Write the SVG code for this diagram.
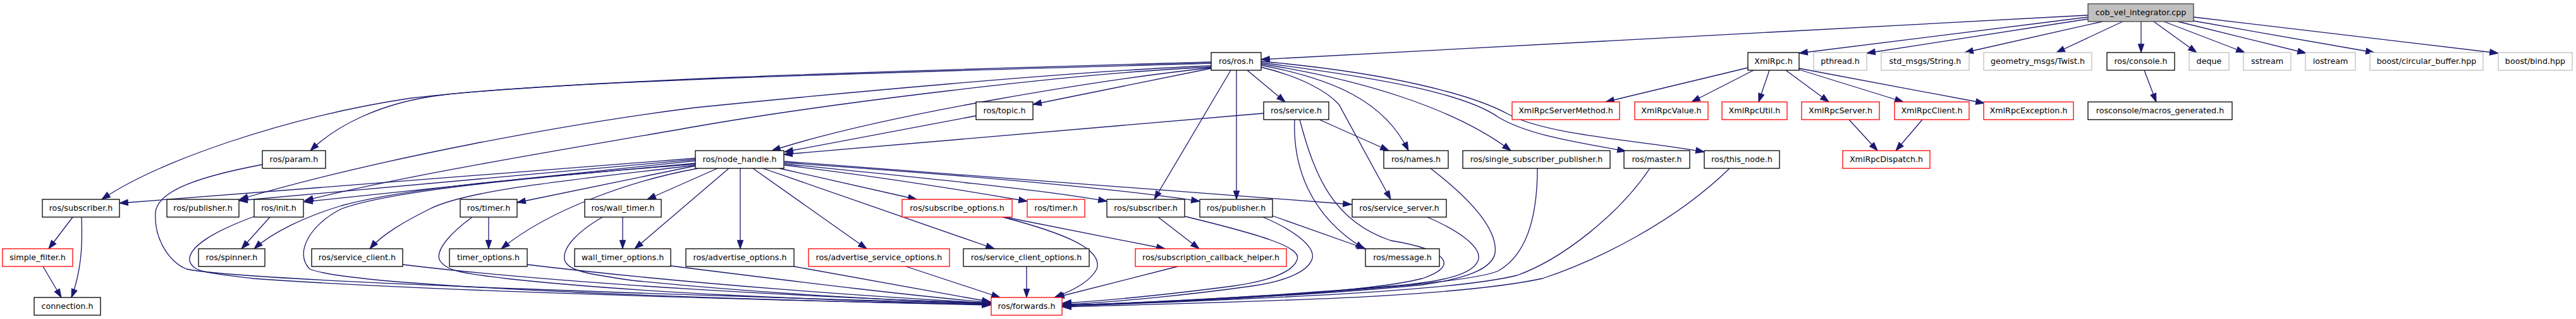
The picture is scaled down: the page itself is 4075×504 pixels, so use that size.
<svg xmlns="http://www.w3.org/2000/svg" width="4075" height="504" viewBox="0 0 4075 504">
<style>
.n rect{fill:#fff;stroke:#000;stroke-width:1.3}
.n.r rect{stroke:#ff0000}
.n.g rect{stroke:#bfbfbf}
.n.m rect{fill:#bfbfbf;stroke:#404040}
.n text{font-family:"DejaVu Sans",sans-serif;font-size:12.7px;text-anchor:middle;fill:#000}
#edges path{fill:none;stroke:#191970;stroke-width:1.3;marker-end:url(#a)}
</style>
<defs>
<marker id="a" markerWidth="16" markerHeight="12" refX="13.3" refY="4.65" orient="auto" markerUnits="userSpaceOnUse" overflow="visible"><path d="M0,0 L13.3,4.65 L0,9.3 Z" fill="#191970" stroke="#191970" stroke-width="1"/></marker>
</defs>
<rect width="4075" height="504" fill="#fff"/>
<g id="edges">
<path d="M3303,24 L1995,94"/>
<path d="M3303,27 L2846,84"/>
<path d="M3303,30 L2953,84"/>
<path d="M3326,34 L3108,83"/>
<path d="M3358,34 L3253,83"/>
<path d="M3387,34 L3387,83"/>
<path d="M3407,34 L3475,83"/>
<path d="M3423,34 L3551,83"/>
<path d="M3445,34 L3648,84"/>
<path d="M3470,33 L3756,83"/>
<path d="M3470,27 L3952,84"/>
<path d="M1916,98 C1500,110 900,125 650,155 C450,185 250,255 161,315"/>
<path d="M1916,100 C1500,112 900,127 700,150 C600,162 530,200 491,238"/>
<path d="M1916,104 C1700,112 1300,150 1100,170 C900,195 600,250 379,315"/>
<path d="M1916,106 C1700,115 1300,165 1100,200 C900,235 650,275 482,317"/>
<path d="M1916,107 C1750,125 1400,180 1221,238"/>
<path d="M1916,108 L1634,165"/>
<path d="M1947,111 L1826,315"/>
<path d="M1956,111 L1956,315"/>
<path d="M1973,111 L2033,161"/>
<path d="M1995,103 C2110,125 2190,160 2228,238"/>
<path d="M1995,101 C2150,125 2300,170 2390,238"/>
<path d="M1995,99 C2200,125 2320,150 2370,185 C2420,215 2500,225 2572,239"/>
<path d="M1995,97 C2200,115 2330,150 2385,180 C2450,215 2600,222 2696,240"/>
<path d="M1995,106 C2060,122 2100,145 2118,165 L2200,315"/>
<path d="M1999,179 L1240,244"/>
<path d="M2087,189 L2197,238"/>
<path d="M2048,189 C2045,260 2070,340 2158,393"/>
<path d="M2056,189 C2080,280 2110,350 2200,380 C2290,395 2310,420 2250,440 C2150,465 1850,478 1681,482"/>
<path d="M1241,255 L2138,323"/>
<path d="M1241,257 C1500,275 1750,295 1898,318"/>
<path d="M1241,259 C1450,280 1650,300 1751,318"/>
<path d="M1241,261 C1400,280 1550,305 1625,318"/>
<path d="M1233,266 L1450,315"/>
<path d="M1207,266 L1573,393"/>
<path d="M1191,266 L1371,393"/>
<path d="M1171,266 L1171,393"/>
<path d="M1153,266 L1004,393"/>
<path d="M1135,266 L1024,315"/>
<path d="M1104,266 C1000,285 870,330 793,393"/>
<path d="M1100,262 L818,320"/>
<path d="M1100,261 C900,285 740,300 680,330 C640,350 605,370 585,393"/>
<path d="M1100,259 C850,280 650,295 540,325 C480,343 430,368 402,393"/>
<path d="M1100,258 C850,280 620,300 540,330 C490,355 465,400 490,425 C560,455 1200,475 1567,481"/>
<path d="M1100,250 L189,321"/>
<path d="M1100,252 L378,317"/>
<path d="M1100,254 L481,319"/>
<path d="M1544,183 L1241,240"/>
<path d="M415,260 C320,278 250,300 246,335 C243,380 270,415 295,425 C380,445 1200,470 1567,480"/>
<path d="M402,342 C340,365 297,390 300,412 C305,430 330,432 400,440 C700,462 1300,476 1567,482"/>
<path d="M427,343 L382,393"/>
<path d="M115,343 L77,393"/>
<path d="M129,343 C131,390 128,430 113,470"/>
<path d="M68,421 L97,470"/>
<path d="M637,418 C900,450 1300,470 1567,479"/>
<path d="M773,343 L773,393"/>
<path d="M747,343 C710,370 690,395 695,410 C705,430 740,432 800,440 C1000,462 1300,475 1567,481"/>
<path d="M985,343 L985,393"/>
<path d="M953,343 C915,365 890,390 893,410 C897,428 930,433 1000,443 C1200,463 1400,474 1567,480"/>
<path d="M834,418 C1100,450 1400,470 1567,479"/>
<path d="M1061,420 C1300,450 1450,468 1567,478"/>
<path d="M1256,421 L1567,477"/>
<path d="M1433,421 L1582,470"/>
<path d="M1624,421 L1624,470"/>
<path d="M1586,343 C1690,370 1745,395 1735,425 C1725,445 1695,460 1668,470"/>
<path d="M1590,343 L1843,393"/>
<path d="M1863,421 L1670,470"/>
<path d="M1832,343 L1897,393"/>
<path d="M1875,342 C1990,370 2060,390 2052,410 C2045,432 2000,445 1950,452 C1850,465 1750,475 1681,479"/>
<path d="M1998,343 C2050,365 2080,390 2076,408 C2070,430 2030,445 1980,452 C1880,466 1760,478 1681,481"/>
<path d="M2013,341 L2160,393"/>
<path d="M2258,343 C2320,370 2345,395 2338,412 C2330,432 2290,445 2200,452 C2050,465 1800,480 1681,482"/>
<path d="M2263,266 C2320,310 2370,360 2365,400 C2360,425 2320,440 2250,450 C2100,465 1850,478 1681,483"/>
<path d="M2432,266 C2432,330 2420,400 2370,428 C2320,450 2000,470 1681,483"/>
<path d="M2610,266 C2560,340 2470,410 2400,435 C2300,460 2000,472 1681,484"/>
<path d="M2736,266 C2650,350 2530,410 2440,440 C2300,470 2000,476 1681,485"/>
<path d="M2765,107 L2540,161"/>
<path d="M2774,111 L2676,161"/>
<path d="M2799,111 L2782,161"/>
<path d="M2825,111 L2893,161"/>
<path d="M2846,110 L3011,161"/>
<path d="M2846,108 L3139,163"/>
<path d="M2925,189 L2970,238"/>
<path d="M3041,189 L2999,238"/>
<path d="M3392,111 L3411,161"/>
</g>
<g id="cob" class="n m"><rect x="3303" y="6" width="167" height="28"/><text x="3386.5" y="24.3">cob_vel_integrator.cpp</text></g>
<g id="ros_ros" class="n"><rect x="1916" y="83" width="79" height="28"/><text x="1955.5" y="101.3">ros/ros.h</text></g>
<g id="xmlrpc" class="n"><rect x="2765" y="83" width="81" height="28"/><text x="2805.5" y="101.3">XmlRpc.h</text></g>
<g id="pthread" class="n g"><rect x="2869" y="83" width="84" height="28"/><text x="2911" y="101.3">pthread.h</text></g>
<g id="std_string" class="n g"><rect x="2976" y="83" width="139" height="28"/><text x="3045.5" y="101.3">std_msgs/String.h</text></g>
<g id="geo_twist" class="n g"><rect x="3138" y="83" width="171" height="28"/><text x="3223.5" y="101.3">geometry_msgs/Twist.h</text></g>
<g id="ros_console" class="n"><rect x="3333" y="83" width="107" height="28"/><text x="3386.5" y="101.3">ros/console.h</text></g>
<g id="deque" class="n g"><rect x="3463" y="83" width="63" height="28"/><text x="3494.5" y="101.3">deque</text></g>
<g id="sstream" class="n g"><rect x="3549" y="83" width="75" height="28"/><text x="3586.5" y="101.3">sstream</text></g>
<g id="iostream" class="n g"><rect x="3647" y="83" width="79" height="28"/><text x="3686.5" y="101.3">iostream</text></g>
<g id="boost_cb" class="n g"><rect x="3749" y="83" width="179" height="28"/><text x="3838.5" y="101.3">boost/circular_buffer.hpp</text></g>
<g id="boost_bind" class="n g"><rect x="3952" y="83" width="117" height="28"/><text x="4010.5" y="101.3">boost/bind.hpp</text></g>
<g id="ros_topic" class="n"><rect x="1544" y="161" width="90" height="28"/><text x="1589" y="179.3">ros/topic.h</text></g>
<g id="ros_service" class="n"><rect x="1999" y="161" width="103" height="28"/><text x="2050.5" y="179.3">ros/service.h</text></g>
<g id="xr_servermethod" class="n r"><rect x="2392" y="161" width="170" height="28"/><text x="2477" y="179.3">XmlRpcServerMethod.h</text></g>
<g id="xr_value" class="n r"><rect x="2586" y="161" width="116" height="28"/><text x="2644" y="179.3">XmlRpcValue.h</text></g>
<g id="xr_util" class="n r"><rect x="2724" y="161" width="103" height="28"/><text x="2775.5" y="179.3">XmlRpcUtil.h</text></g>
<g id="xr_server" class="n r"><rect x="2850" y="161" width="123" height="28"/><text x="2911.5" y="179.3">XmlRpcServer.h</text></g>
<g id="xr_client" class="n r"><rect x="2997" y="161" width="118" height="28"/><text x="3056" y="179.3">XmlRpcClient.h</text></g>
<g id="xr_exception" class="n r"><rect x="3138" y="161" width="142" height="28"/><text x="3209" y="179.3">XmlRpcException.h</text></g>
<g id="rosconsole_macros" class="n"><rect x="3303" y="161" width="228" height="28"/><text x="3417" y="179.3">rosconsole/macros_generated.h</text></g>
<g id="ros_param" class="n"><rect x="415" y="238" width="100" height="28"/><text x="465" y="256.3">ros/param.h</text></g>
<g id="ros_node_handle" class="n"><rect x="1100" y="238" width="140" height="28"/><text x="1170" y="256.3">ros/node_handle.h</text></g>
<g id="ros_names" class="n"><rect x="2189" y="238" width="102" height="28"/><text x="2240" y="256.3">ros/names.h</text></g>
<g id="ros_ssp" class="n"><rect x="2314" y="238" width="233" height="28"/><text x="2430.5" y="256.3">ros/single_subscriber_publisher.h</text></g>
<g id="ros_master" class="n"><rect x="2569" y="238" width="104" height="28"/><text x="2621" y="256.3">ros/master.h</text></g>
<g id="ros_this_node" class="n"><rect x="2696" y="238" width="119" height="28"/><text x="2755.5" y="256.3">ros/this_node.h</text></g>
<g id="xr_dispatch" class="n r"><rect x="2915" y="238" width="138" height="28"/><text x="2984" y="256.3">XmlRpcDispatch.h</text></g>
<g id="ros_subscriber_a" class="n"><rect x="67" y="315" width="122" height="28"/><text x="128" y="333.3">ros/subscriber.h</text></g>
<g id="ros_publisher_a" class="n"><rect x="264" y="315" width="114" height="28"/><text x="321" y="333.3">ros/publisher.h</text></g>
<g id="ros_init" class="n"><rect x="402" y="315" width="78" height="28"/><text x="441" y="333.3">ros/init.h</text></g>
<g id="ros_timer_a" class="n"><rect x="728" y="315" width="90" height="28"/><text x="773" y="333.3">ros/timer.h</text></g>
<g id="ros_wall_timer" class="n"><rect x="925" y="315" width="121" height="28"/><text x="985.5" y="333.3">ros/wall_timer.h</text></g>
<g id="ros_subscribe_options" class="n r"><rect x="1427" y="315" width="174" height="28"/><text x="1514" y="333.3">ros/subscribe_options.h</text></g>
<g id="ros_timer_b" class="n r"><rect x="1625" y="315" width="91" height="28"/><text x="1670.5" y="333.3">ros/timer.h</text></g>
<g id="ros_subscriber_b" class="n"><rect x="1751" y="315" width="123" height="28"/><text x="1812.5" y="333.3">ros/subscriber.h</text></g>
<g id="ros_publisher_b" class="n"><rect x="1898" y="315" width="115" height="28"/><text x="1955.5" y="333.3">ros/publisher.h</text></g>
<g id="ros_service_server" class="n"><rect x="2139" y="315" width="149" height="28"/><text x="2213.5" y="333.3">ros/service_server.h</text></g>
<g id="simple_filter" class="n r"><rect x="4" y="393" width="111" height="28"/><text x="59.5" y="411.3">simple_filter.h</text></g>
<g id="ros_spinner" class="n"><rect x="314" y="393" width="105" height="28"/><text x="366.5" y="411.3">ros/spinner.h</text></g>
<g id="ros_service_client" class="n"><rect x="493" y="393" width="144" height="28"/><text x="565" y="411.3">ros/service_client.h</text></g>
<g id="timer_options" class="n"><rect x="711" y="393" width="123" height="28"/><text x="772.5" y="411.3">timer_options.h</text></g>
<g id="wall_timer_options" class="n"><rect x="909" y="393" width="152" height="28"/><text x="985" y="411.3">wall_timer_options.h</text></g>
<g id="ros_advertise_options" class="n"><rect x="1085" y="393" width="171" height="28"/><text x="1170.5" y="411.3">ros/advertise_options.h</text></g>
<g id="ros_advertise_service_options" class="n r"><rect x="1279" y="393" width="223" height="28"/><text x="1390.5" y="411.3">ros/advertise_service_options.h</text></g>
<g id="ros_service_client_options" class="n"><rect x="1524" y="393" width="199" height="28"/><text x="1623.5" y="411.3">ros/service_client_options.h</text></g>
<g id="ros_subscription_callback_helper" class="n r"><rect x="1796" y="393" width="239" height="28"/><text x="1915.5" y="411.3">ros/subscription_callback_helper.h</text></g>
<g id="ros_message" class="n"><rect x="2160" y="393" width="117" height="28"/><text x="2218.5" y="411.3">ros/message.h</text></g>
<g id="connection" class="n"><rect x="54" y="470" width="105" height="28"/><text x="106.5" y="488.3">connection.h</text></g>
<g id="ros_forwards" class="n r"><rect x="1568" y="470" width="112" height="28"/><text x="1624" y="488.3">ros/forwards.h</text></g>
</svg>
